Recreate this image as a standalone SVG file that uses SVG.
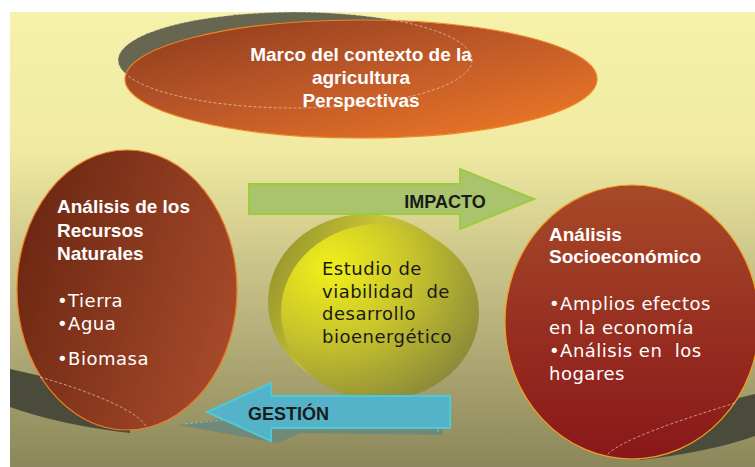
<svg xmlns="http://www.w3.org/2000/svg" width="755" height="467" viewBox="0 0 755 467">
<defs>
<linearGradient id="bg" x1="0" y1="0" x2="0" y2="1">
<stop offset="0" stop-color="#f6f2aa"/>
<stop offset="0.3" stop-color="#f0eaa2"/>
<stop offset="0.6" stop-color="#c4bd85"/>
<stop offset="1" stop-color="#8c875a"/>
</linearGradient>
<linearGradient id="gTop" x1="0" y1="0" x2="1" y2="1">
<stop offset="0" stop-color="#8a3a1e"/>
<stop offset="0.5" stop-color="#c05a28"/>
<stop offset="1" stop-color="#f47c26"/>
</linearGradient>
<linearGradient id="gLeft" x1="0" y1="0.2" x2="1" y2="0.6">
<stop offset="0" stop-color="#6a2611"/>
<stop offset="1" stop-color="#a6492a"/>
</linearGradient>
<linearGradient id="gRight" x1="0" y1="0" x2="0" y2="1">
<stop offset="0" stop-color="#a64a28"/>
<stop offset="1" stop-color="#8a171a"/>
</linearGradient>
<linearGradient id="gBack" x1="0" y1="0" x2="1" y2="0.4">
<stop offset="0" stop-color="#8c8a2a"/>
<stop offset="0.5" stop-color="#c8c436"/>
<stop offset="1" stop-color="#a8a432"/>
</linearGradient>
<radialGradient id="gFront" cx="0.25" cy="0.25" r="0.9">
<stop offset="0" stop-color="#f2f01a"/>
<stop offset="0.45" stop-color="#c8c42c"/>
<stop offset="1" stop-color="#86843a"/>
</radialGradient>
<style>
.bold{font-family:"Liberation Sans",Arial,sans-serif;font-weight:bold;}
.reg{font-family:"DejaVu Sans","Liberation Sans",sans-serif;font-size:18px;letter-spacing:0.5px;}
.w{fill:#ffffff;}
.k{fill:#1a1a1a;}
.dash{fill:none;stroke:#e8d8c8;stroke-width:0.8;stroke-dasharray:3 2;opacity:0.8;}
.swoosh{fill:#4b4b3b;}
</style>
</defs>
<rect x="0" y="0" width="755" height="467" fill="#ffffff"/>
<rect x="10" y="12" width="745" height="455" fill="url(#bg)"/>

<g id="swoosh-left">
<path class="swoosh" d="M10,369 Q70,382 130,400 L130,433 Q60,425 10,407 Z"/>
</g>
<g id="swoosh-right">
<path class="swoosh" d="M755,394 Q700,406 640,430 L640,460 Q710,452 755,436 Z"/>
</g>

<g id="node-marco">
<ellipse cx="295" cy="60" rx="177" ry="48" fill="#676650"/>
<ellipse cx="361" cy="79" rx="236" ry="59" fill="url(#gTop)" stroke="#f08224" stroke-width="1.2"/>
<ellipse class="dash" cx="295" cy="60" rx="177" ry="48"/>
<text class="bold w" font-size="19" text-anchor="middle"><tspan x="361" y="61">Marco del contexto de la</tspan><tspan x="361" y="84">agricultura</tspan><tspan x="361" y="107">Perspectivas</tspan></text>
</g>

<g id="node-recursos">
<ellipse cx="127" cy="290" rx="110" ry="140" fill="url(#gLeft)" stroke="#f07e22" stroke-width="1.2"/>
<path class="dash" d="M40,377 C95,393 140,412 147,428"/>
<text class="bold w" font-size="19"><tspan x="57" y="213">Análisis de los</tspan><tspan x="57" y="237">Recursos</tspan><tspan x="57" y="260">Naturales</tspan></text>
<text class="reg w"><tspan x="57" y="307">•Tierra</tspan><tspan x="57" y="330">•Agua</tspan><tspan x="57" y="365">•Biomasa</tspan></text>
</g>

<g id="node-socio">
<ellipse cx="632" cy="322" rx="127" ry="137" fill="url(#gRight)" stroke="#f0a020" stroke-width="1.2"/>
<path class="dash" d="M735,403 C680,420 620,440 607,455"/>
<text class="bold w" font-size="19"><tspan x="549" y="241">Análisis</tspan><tspan x="549" y="263">Socioeconómico</tspan></text>
<text class="reg w"><tspan x="549" y="310">•Amplios efectos</tspan><tspan x="549" y="334">en la economía</tspan><tspan x="549" y="357">•Análisis en&#160; los</tspan><tspan x="549" y="380">hogares</tspan></text>
</g>

<g id="node-estudio">
<ellipse cx="366" cy="302" rx="98" ry="88" fill="url(#gBack)"/>
<ellipse cx="380" cy="312" rx="99" ry="88" fill="url(#gFront)"/>
<text class="reg k"><tspan x="322" y="275">Estudio de</tspan><tspan x="322" y="298">viabilidad&#160; de</tspan><tspan x="322" y="320">desarrollo</tspan><tspan x="322" y="343">bioenergético</tspan></text>
</g>

<g id="connectors">
<g id="arrow-impacto">
<polygon points="249,184 460,184 460,169 534,199 460,229 460,214 249,214" fill="#a9c46c" stroke="#9acc3c" stroke-width="2"/>
<text class="bold k" font-size="18" x="445" y="208" text-anchor="middle">IMPACTO</text>
</g>
<g id="arrow-gestion">
<polygon points="178,425 250,414 440,414 443,435 300,433 278,443" fill="#6a8a7c" opacity="0.9"/>
<polyline points="185,424 250,417 438,417 438,432" fill="none" stroke="#a8c0b0" stroke-width="0.8" stroke-dasharray="3 2"/>
<polygon points="450,396 271,396 271,383 207,412 271,441 271,428 450,428" fill="#55b3c9" stroke="#4ecad4" stroke-width="2"/>
<text class="bold k" font-size="18" x="248" y="420">GESTIÓN</text>
</g>
</g>
</svg>
